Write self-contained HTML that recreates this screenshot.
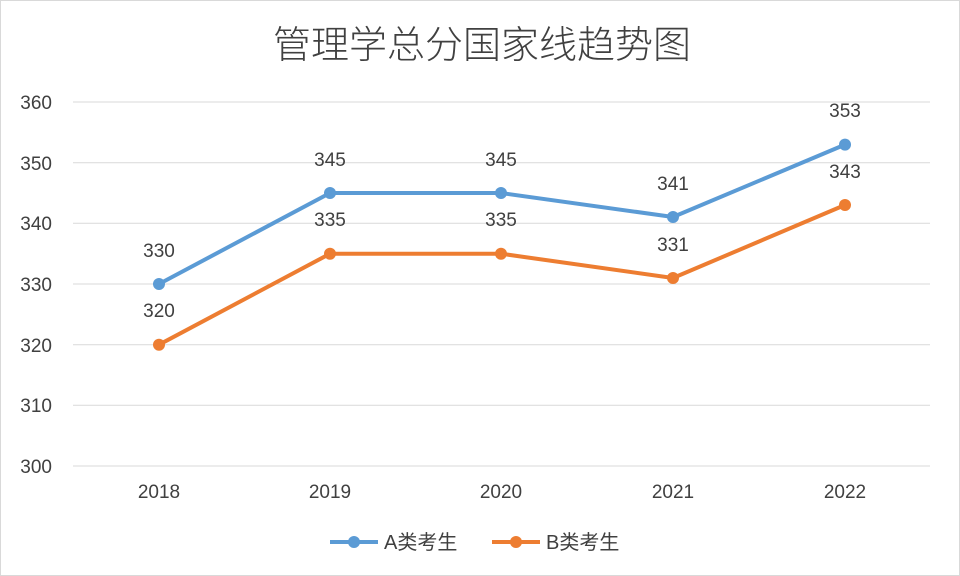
<!DOCTYPE html>
<html><head><meta charset="utf-8"><style>
html,body{margin:0;padding:0;background:#fff;}
svg{display:block;}
text{font-family:"Liberation Sans","Noto Sans CJK SC",sans-serif;fill:#404040;}
</style></head><body>
<svg width="960" height="576" viewBox="0 0 960 576" xmlns="http://www.w3.org/2000/svg">
<rect x="0.5" y="0.5" width="959" height="575" fill="#fff" stroke="#d9d9d9"/>
<text x="482" y="58" font-size="38" text-anchor="middle" style="font-family:'Noto Sans CJK SC',sans-serif;font-weight:300" fill="#404040">管理学总分国家线趋势图</text>
<g stroke="#d9d9d9" stroke-width="1">
<line x1="73" x2="930" y1="102" y2="102"/>
<line x1="73" x2="930" y1="162.7" y2="162.7"/>
<line x1="73" x2="930" y1="223.3" y2="223.3"/>
<line x1="73" x2="930" y1="284" y2="284"/>
<line x1="73" x2="930" y1="344.7" y2="344.7"/>
<line x1="73" x2="930" y1="405.3" y2="405.3"/>
<line x1="73" x2="930" y1="466" y2="466"/>
</g>
<g font-size="19" text-anchor="end">
<text x="52" y="109">360</text><text x="52" y="170">350</text><text x="52" y="230">340</text>
<text x="52" y="291">330</text><text x="52" y="352">320</text><text x="52" y="412">310</text><text x="52" y="473">300</text>
</g>
<g font-size="19" text-anchor="middle">
<text x="159" y="498">2018</text><text x="330" y="498">2019</text><text x="501" y="498">2020</text>
<text x="673" y="498">2021</text><text x="845" y="498">2022</text>
</g>
<polyline fill="none" stroke="#5b9bd5" stroke-width="4" stroke-linejoin="round" points="159,284 330,193 501,193 673,217 845,144.6"/>
<polyline fill="none" stroke="#ed7d31" stroke-width="4" stroke-linejoin="round" points="159,344.7 330,253.7 501,253.7 673,278 845,205"/>
<g fill="#5b9bd5"><circle cx="159" cy="284" r="6"/><circle cx="330" cy="193" r="6"/><circle cx="501" cy="193" r="6"/><circle cx="673" cy="217" r="6"/><circle cx="845" cy="144.6" r="6"/></g>
<g fill="#ed7d31"><circle cx="159" cy="344.7" r="6"/><circle cx="330" cy="253.7" r="6"/><circle cx="501" cy="253.7" r="6"/><circle cx="673" cy="278" r="6"/><circle cx="845" cy="205" r="6"/></g>
<g font-size="19" text-anchor="middle">
<text x="159" y="257">330</text><text x="330" y="166">345</text><text x="501" y="166">345</text><text x="673" y="190">341</text><text x="845" y="117">353</text>
<text x="159" y="317">320</text><text x="330" y="226">335</text><text x="501" y="226">335</text><text x="673" y="251">331</text><text x="845" y="178">343</text>
</g>
<line x1="330" x2="378" y1="542" y2="542" stroke="#5b9bd5" stroke-width="4"/><circle cx="354" cy="542" r="6" fill="#5b9bd5"/>
<text x="384" y="549" font-size="20">A类考生</text>
<line x1="492" x2="540" y1="542" y2="542" stroke="#ed7d31" stroke-width="4"/><circle cx="516" cy="542" r="6" fill="#ed7d31"/>
<text x="546" y="549" font-size="20">B类考生</text>
</svg>
</body></html>
